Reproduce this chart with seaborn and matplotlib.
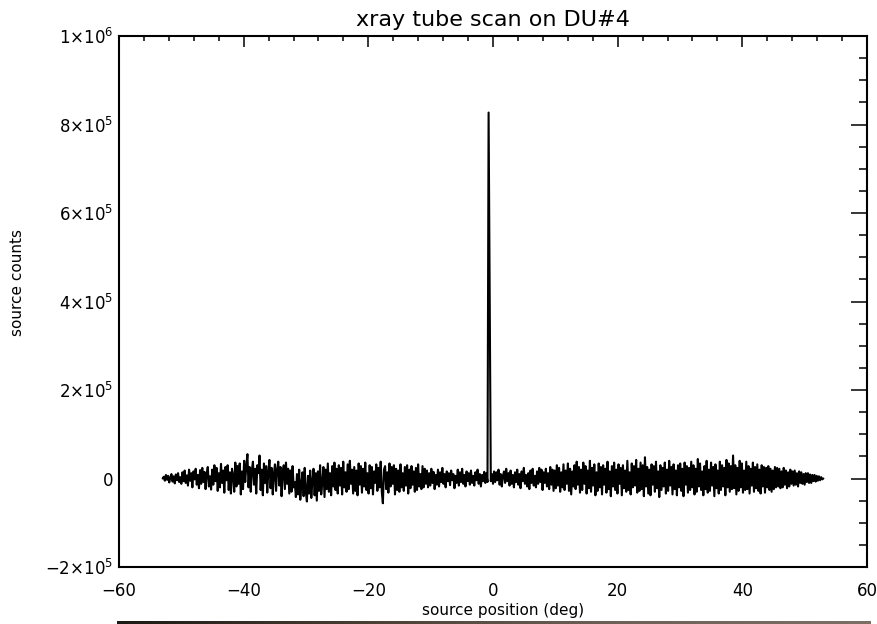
import numpy as np
import pandas as pd
import matplotlib
matplotlib.use("Agg")
import matplotlib.pyplot as plt
import seaborn as sns
from matplotlib.ticker import MultipleLocator
from matplotlib.colors import LinearSegmentedColormap

# scan grid: 601 evenly spaced source positions from -53 to 53 deg
x_start, x_stop, n_pts = -53.0, 53.0, 601

# source counts (in thousands), 20 per row
counts_k = [
    0, 4, -5, 8, -3, 6, -9, 2, 10, -7, 5, -11, 9, -4, 12, -8, 3, -12, 14, -6,
    18, -10, 7, -16, 20, -5, 12, -20, 16, -2, 22, -14, 8, -22, 19, -12, 24, -8, 15, -24,
    10, 26, -18, 5, -25, 20, -14, 30, -6, 24, -28, 12, -20, 33, -10, 18, -32, 26, -4, 30,
    -26, 14, -34, 22, 8, -30, 36, -18, 28, -12, 34, -36, 16, -24, 40, -8, 30, 55, -20, 26,
    -30, 18, 38, -14, 22, -34, 30, 12, 52, -26, 20, -38, 34, -10, 28, -32, 16, 42, -22, 24,
    -36, 10, 32, -28, 20, 38, -16, 26, -40, 14, 30, -24, 36, -12, 22, -34, 18, -30, 28, -20,
    -8, -42, 10, -36, 20, -48, -12, 14, -40, 24, -30, -52, 6, -34, 18, -44, -6, 22, -38, 12,
    -50, 16, -28, 30, -36, -10, 26, -42, 20, -24, 34, -30, 12, -38, 28, -18, 36, -26, 22, -34,
    30, -16, 24, -36, 38, -20, 14, -30, 32, -24, 40, -12, 20, -34, 26, -28, 18, -38, 34, -14,
    28, -32, 22, -18, 36, -26, 12, -34, 30, -22, 26, -36, 16, -10, 32, -28, 24, -20, 38, -30,
    -56, 20, 28, -24, 14, -32, 34, -18, 26, -12, 30, -36, 22, -26, 18, -30, 32, -20, 12, -28,
    26, -16, 30, -34, 20, -22, 28, -14, 16, -30, 24, -26, 32, -18, 10, -24, 28, -20, 22, -12,
    18, -20, 12, -16, 22, -10, 15, -24, 8, -14, 20, -18, 14, -8, 24, -12, 10, -20, 16, -6,
    12, -15, 18, -4, 10, -22, 6, -10, 20, -16, 14, -8, 22, -12, 8, -18, 16, -6, 12, -14,
    18, -10, 6, -16, 14, -4, 20, -12, 10, -18, 8, -6, 15, -10, 12, -8, 827, 411, -6, 10,
    -12, 16, -8, 14, -4, 20, -14, 10, -18, 6, 16, -10, 22, -6, 12, -16, 18, -12, 8, -20,
    14, -8, 20, -14, 10, -22, 16, -6, 24, -12, 8, -18, 12, -24, 18, -10, 22, -16, 6, -20,
    16, -12, 24, -8, 20, -26, 14, -10, 22, -18, 12, -24, 26, -14, 20, -28, 18, -22, 30, -16,
    24, -30, 14, -20, 32, -26, 18, -12, 34, -28, 22, -36, 16, -18, 30, -24, 38, -14, 26, -32,
    20, -26, 36, -12, 28, -34, 18, -22, 40, -30, 24, -16, 32, -38, 14, -28, 34, -20, 26, -36,
    30, -14, 22, -32, 38, -24, 16, -40, 28, -18, 36, -26, 20, -34, 32, -12, 24, -38, 30, -22,
    18, -30, 40, -26, 14, -36, 34, -20, 28, -16, 42, -32, 22, -28, 36, -24, 30, -40, 48, -18,
    26, -34, 20, -38, 32, -14, 28, -30, 38, -22, 16, -42, 30, -26, 24, -18, 36, -34, 20, -28,
    40, -16, 26, -36, 32, -24, 18, -38, 30, -20, 34, -28, 22, -40, 36, -14, 28, -32, 24, -26,
    38, -20, 30, -36, 22, -30, 44, -18, 34, -26, 16, -38, 28, -24, 40, -32, 20, -28, 36, -16,
    26, -40, 32, -22, 18, -34, 38, -26, 30, -18, 24, -38, 42, -20, 34, -30, 28, -24, 52, -22,
    30, -36, 24, -28, 40, -20, 34, -32, 18, -26, 38, -24, 28, -34, 22, -16, 36, -30, 26, -22,
    32, -28, 20, -34, 30, -18, 26, -32, 24, -20, 28, -26, 22, -30, 18, -24, 26, -20, 24, -18,
    22, -22, 16, -20, 24, -14, 18, -22, 14, -18, 20, -12, 16, -16, 18, -14, 12, -18, 16, -10,
    14, -12, 10, -14, 12, -8, 12, -10, 9, -10, 8, -6, 8, -7, 6, -5, 5, -4, 3, -2,
    0,
]

y_ticks = [-2e5, 0, 2e5, 4e5, 6e5, 8e5, 1e6]
y_tick_labels = [r'$-2{\times}10^{5}$', '0', r'$2{\times}10^{5}$', r'$4{\times}10^{5}$',
                 r'$6{\times}10^{5}$', r'$8{\times}10^{5}$', r'$1{\times}10^{6}$']
x_ticks = [-60, -40, -20, 0, 20, 40, 60]

df = pd.DataFrame({
    'pos': np.linspace(x_start, x_stop, n_pts),
    'counts': np.array(counts_k, dtype=float) * 1000,
})

sns.set_style("white")
plt.rcParams['font.family'] = ['DejaVu Sans']
plt.rcParams['mathtext.fontset'] = 'dejavusans'
plt.rcParams['mathtext.default'] = 'regular'
plt.rcParams['text.color'] = 'black'
plt.rcParams['axes.labelcolor'] = 'black'

fig = plt.figure(figsize=(8.78, 6.24), dpi=100)
ax = fig.add_axes([119/878, 1 - 567/624, 748/878, 531/624])

sns.lineplot(data=df, x='pos', y='counts', color='black', linewidth=1.5,
             estimator=None, sort=False, ax=ax)

ax.set_xlim(-60, 60)
ax.set_ylim(-2e5, 1e6)
ax.set_xticks(x_ticks)
ax.set_xticklabels([str(t).replace('-', '\u2212') for t in x_ticks])
ax.set_yticks(y_ticks)
ax.set_yticklabels(y_tick_labels)
ax.xaxis.set_minor_locator(MultipleLocator(4))
ax.yaxis.set_minor_locator(MultipleLocator(50000))

for s in ax.spines.values():
    s.set_linewidth(1.5)
    s.set_color('black')

ax.tick_params(which='both', direction='in', top=True, right=True, width=1.1,
               colors='black', labelsize=12)
ax.tick_params(axis='x', which='major', length=8, pad=11)
ax.tick_params(axis='x', which='minor', length=3.8)
ax.tick_params(axis='y', which='major', length=11.5, pad=4)
ax.tick_params(axis='y', which='minor', length=5.8)

ax.set_xlabel('source position (deg)', fontsize=11)
ax.set_ylabel('source counts', fontsize=11)
ax.xaxis.set_label_coords(0.513, -0.068)
ax.xaxis.label.set_va('top')
ax.yaxis.set_label_coords(-0.126, 0.535)
ax.set_title('xray tube scan on DU#4', fontsize=16, pad=7, color='black')

# dark strip along the bottom edge of the scan
strip = fig.add_axes([117/878, 0, 754/878, 3/624])
cmap = LinearSegmentedColormap.from_list('strip', ['#1c1a16', '#4a4034', '#6e6258', '#7b6f66'])
strip.imshow(np.linspace(0, 1, 256)[None, :], aspect='auto', cmap=cmap)
strip.axis('off')

fig.savefig('out.png', dpi=100)
